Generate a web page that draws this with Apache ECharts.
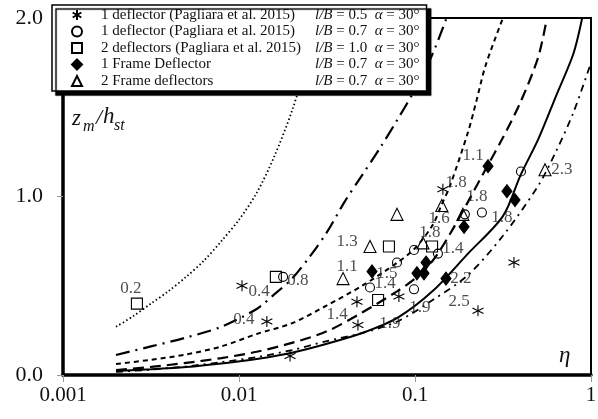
<!DOCTYPE html>
<html><head><meta charset="utf-8">
<script src="https://cdn.jsdelivr.net/npm/echarts@6/dist/echarts.min.js"></script>
<style>html,body{margin:0;padding:0;background:#fff}#c{width:598px;height:419px}</style>
</head><body><div id="c"></div>
<script>
// ---- tick labels ----
const xTickLabels = {'-3': '0.001', '-2': '0.01', '-1': '0.1', '0': '1'};
const yTickLabels = {'0': '0.0', '1': '1.0', '2': '2.0'};

// ---- legend names and parameters ----
const seriesNames = ['1 deflector (Pagliara et al. 2015)', '1 deflector (Pagliara et al. 2015) ', '2 deflectors (Pagliara et al. 2015)', '1 Frame Deflector', '2 Frame deflectors'];
const lbValues = ['0.5', '0.7', '1.0', '0.7', '0.7'];
const alphaValues = ['30°', '30°', '30°', '30°', '30°'];

// ---- scatter data [eta, zm/hst] ----
const oneDefl05 = [[0.0104,0.50],[0.0144,0.30],[0.0195,0.106],[0.0468,0.41],[0.0474,0.28],[0.081,0.44],[0.144,1.04],[0.228,0.36],[0.365,0.63]];
const oneDefl07 = [[0.0178,0.55],[0.079,0.63],[0.0555,0.49],[0.0987,0.48],[0.0987,0.70],[0.135,0.68],[0.192,0.90],[0.240,0.91],[0.40,1.14]];
const twoDefl10 = [[0.00263,0.40],[0.0162,0.55],[0.0711,0.72],[0.125,0.72],[0.0617,0.42]];
const oneFrame = [[0.057,0.58],[0.1026,0.57],[0.1125,0.57],[0.1155,0.63],[0.150,0.54],[0.190,0.83],[0.26,1.17],[0.333,1.03],[0.37,0.98]];
const twoFrame = [[0.039,0.54],[0.0555,0.72],[0.079,0.90],[0.111,0.74],[0.142,0.95],[0.187,0.90],[0.548,1.15]];

// ---- point annotations [eta, zm/hst, text] ----
const annotations = [
  [0.00243,0.487,'0.2'],[0.0130,0.47,'0.4'],[0.0216,0.53,'0.8'],[0.01067,0.31,'0.4'],
  [0.0411,0.745,'1.3'],[0.0411,0.605,'1.1'],[0.0693,0.571,'1.5'],[0.0676,0.51,'1.4'],
  [0.0361,0.336,'1.4'],[0.0721,0.286,'1.9'],[0.1067,0.38,'1.9'],[0.178,0.41,'2.5'],
  [0.182,0.54,'2.2'],[0.164,0.71,'1.4'],[0.1216,0.80,'1.8'],[0.137,0.874,'1.6'],
  [0.312,0.88,'1.8'],[0.225,1.0,'1.8'],[0.171,1.08,'1.8'],[0.214,1.23,'1.1'],[0.684,1.15,'2.3']
];

// ---- curves [eta, zm/hst] ----
const curveDotted = [[0.002,0.27],[0.00251,0.33],[0.00316,0.40],[0.00398,0.47],[0.00501,0.55],[0.00631,0.64],[0.00794,0.75],[0.01,0.87],[0.0126,1.02],[0.0158,1.22],[0.02,1.48],[0.0251,1.8],[0.0282,2.0]];
const curveLongDashDot = [[0.002,0.112],[0.00316,0.16],[0.00501,0.21],[0.00794,0.27],[0.0126,0.37],[0.0158,0.45],[0.02,0.54],[0.0251,0.66],[0.0316,0.8],[0.0398,0.97],[0.0501,1.12],[0.0631,1.27],[0.0794,1.43],[0.1,1.6],[0.126,1.8],[0.151,2.0]];
const curveShortDash = [[0.002,0.062],[0.00316,0.085],[0.00501,0.115],[0.00794,0.16],[0.0126,0.23],[0.02,0.29],[0.0316,0.39],[0.0501,0.5],[0.0794,0.63],[0.1,0.71],[0.126,0.84],[0.141,0.95],[0.158,1.06],[0.2,1.36],[0.224,1.54],[0.251,1.73],[0.316,2.0]];
const curveLongDash = [[0.002,0.028],[0.00316,0.045],[0.00501,0.068],[0.00794,0.095],[0.0126,0.13],[0.02,0.18],[0.0316,0.245],[0.0501,0.35],[0.0794,0.47],[0.1,0.54],[0.126,0.64],[0.158,0.79],[0.2,0.97],[0.251,1.15],[0.316,1.33],[0.398,1.53],[0.501,1.78],[0.562,2.0]];
const curveSolid = [[0.002,0.022],[0.00316,0.032],[0.00501,0.045],[0.00794,0.065],[0.0126,0.09],[0.02,0.125],[0.0316,0.175],[0.0501,0.235],[0.0794,0.32],[0.126,0.47],[0.2,0.68],[0.316,0.89],[0.398,1.12],[0.501,1.32],[0.631,1.56],[0.794,1.80],[0.891,2.0]];
const curveDashDot = [[0.002,0.017],[0.00316,0.03],[0.00501,0.048],[0.00794,0.072],[0.0126,0.1],[0.02,0.14],[0.0316,0.19],[0.0501,0.235],[0.0794,0.3],[0.126,0.42],[0.2,0.56],[0.316,0.78],[0.501,1.06],[0.631,1.25],[0.794,1.47],[1.0,1.75]];

const SERIF = 'Liberation Serif';
const asteriskPath = 'path://M5,0L5,10M0.67,2.5L9.33,7.5M0.67,7.5L9.33,2.5';

function lineSeries(data, type, width) {
  return {type: 'line', data: data, showSymbol: false, symbol: 'none', smooth: 0.3,
    silent: true, z: 2, lineStyle: {color: '#000', width: width, type: type}};
}
function scatterSeries(name, data, symbol, size, fill) {
  return {type: 'scatter', name: name, data: data, symbol: symbol, symbolSize: size, z: 3, silent: true,
    itemStyle: {color: fill, borderColor: '#000', borderWidth: 1.1, opacity: 1}};
}

const chart = echarts.init(document.getElementById('c'), null, {renderer: 'canvas'});
const option = {
  animation: false,
  backgroundColor: '#fff',
  grid: {left: 63, right: 7, top: 18, bottom: 44, show: true, borderColor: '#000', borderWidth: 2, outerBoundsMode: 'none'},
  xAxis: {
    type: 'log', logBase: 10, min: 0.001, max: 1,
    axisLine: {show: true, onZero: false, lineStyle: {color: '#000', width: 3.5}},
    axisTick: {show: true, length: 7, lineStyle: {color: '#999', width: 1}},
    minorTick: {show: false}, splitLine: {show: false},
    axisLabel: {margin: 10, fontFamily: SERIF, fontSize: 21, color: '#111',
      formatter: v => xTickLabels[String(Math.round(Math.log10(v)))]}
  },
  yAxis: {
    type: 'value', min: 0, max: 2, interval: 1,
    axisLine: {show: true, onZero: false, lineStyle: {color: '#000', width: 3.5}},
    axisTick: {show: true, length: 6, lineStyle: {color: '#999', width: 1}},
    splitLine: {show: false},
    axisLabel: {margin: 20, fontFamily: SERIF, fontSize: 22, color: '#111',
      formatter: v => yTickLabels[String(Math.round(v))]}
  },
  legend: {
    orient: 'vertical', left: 52, top: 5,
    padding: [2, 7, 2, 19], itemGap: 0.5, itemWidth: 10, itemHeight: 10,
    backgroundColor: '#fff', borderColor: '#000', borderWidth: 1.5, borderRadius: 0,
    shadowColor: '#000', shadowBlur: 1, shadowOffsetX: 4, shadowOffsetY: 4,
    selectedMode: false,
    data: seriesNames,
    formatter: function (name) {
      const i = seriesNames.indexOf(name);
      return '{g|\u00a0}{n|' + name.trim() + '}{pi|l/B}{pn| = ' + lbValues[i] + '  }{pi|\u03b1}{pn| = ' + alphaValues[i] + '}';
    },
    textStyle: {
      fontFamily: SERIF, fontSize: 15, color: '#111', lineHeight: 16,
      rich: {
        g: {width: 14, fontSize: 15, lineHeight: 16},
        n: {width: 214, fontFamily: SERIF, fontSize: 15, lineHeight: 16, color: '#111'},
        pi: {fontFamily: SERIF, fontStyle: 'italic', fontSize: 15, lineHeight: 16, color: '#111'},
        pn: {fontFamily: SERIF, fontSize: 15, lineHeight: 16, color: '#111'}
      }
    }
  },
  graphic: [
    {type: 'text', left: 72, top: 107, z: 10, style: {text: 'z', font: 'italic 23px "Liberation Serif"', fill: '#111'}},
    {type: 'text', left: 83, top: 119, z: 10, style: {text: 'm', font: 'italic 16px "Liberation Serif"', fill: '#111'}},
    {type: 'text', left: 96, top: 107, z: 10, style: {text: '/', font: 'italic 22px "Liberation Serif"', fill: '#111'}},
    {type: 'text', left: 103, top: 105, z: 10, style: {text: 'h', font: 'italic 23px "Liberation Serif"', fill: '#111'}},
    {type: 'text', left: 114, top: 118, z: 10, style: {text: 'st', font: 'italic 16px "Liberation Serif"', fill: '#111'}},
    {type: 'text', left: 559, top: 344, z: 10, style: {text: '\u03b7', font: 'italic 23px "Liberation Serif"', fill: '#111'}}
  ],
  series: [
    lineSeries(curveDotted, [1.5, 2.5], 1.8),
    lineSeries(curveLongDashDot, [14, 6, 2, 6], 2.2),
    lineSeries(curveShortDash, [5, 4], 2),
    lineSeries(curveLongDash, [11, 6], 2.2),
    lineSeries(curveSolid, 'solid', 2),
    lineSeries(curveDashDot, [7, 5, 2, 5], 1.8),
    scatterSeries(seriesNames[0], oneDefl05, asteriskPath, 11, 'transparent'),
    scatterSeries(seriesNames[1], oneDefl07, 'circle', 9, 'transparent'),
    scatterSeries(seriesNames[2], twoDefl10, 'rect', 11, 'transparent'),
    scatterSeries(seriesNames[3], oneFrame, 'diamond', [10, 13], '#000'),
    scatterSeries(seriesNames[4], twoFrame, 'triangle', 12, 'transparent'),
    {type: 'scatter', data: annotations, symbolSize: 0, silent: true, z: 4,
      label: {show: true, position: 'inside', fontFamily: SERIF, fontSize: 17, color: '#222',
        formatter: p => p.value[2]}}
  ]
};
chart.setOption(option);
</script>
</body></html>
